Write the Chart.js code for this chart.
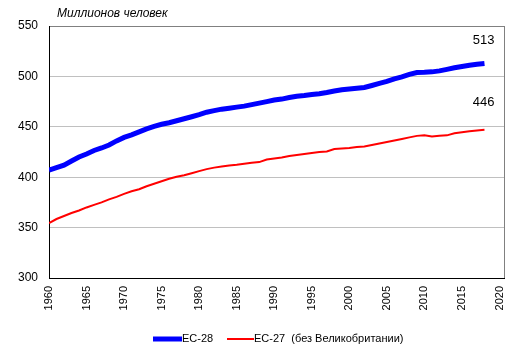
<!DOCTYPE html>
<html>
<head>
<meta charset="utf-8">
<script src="https://cdn.jsdelivr.net/npm/chart.js@4/dist/chart.umd.min.js"></script>
<style>
html,body{margin:0;padding:0;background:#fff;}
#wrap{width:517px;height:356px;position:relative;}
</style>
</head>
<body>
<div id="wrap"><canvas id="c" width="517" height="356"></canvas></div>
<script>
const years = [];
for (let y = 1960; y <= 2018; y++) years.push(y);

const ec28 = [407,409.5,412,416,420,423,426.5,429,432,436,439.5,442,445,448,450.5,452.5,454,456,458,460,
  462,464.5,466,467.5,468.5,469.5,470.5,472,473.5,475,476.6,477.5,479,480.3,481,482,482.8,484,485.5,486.8,
  487.5,488.3,489,491,493,495,497.5,499.5,502,503.8,504,504.5,505.5,507,508.5,509.8,511,512,512.8];

const ec27 = [354.5,358.5,361.5,364.5,367,370,372.5,375,378,380.5,383.5,386,388,391,393.5,396,398.5,400.5,402,404,
  406,408,409.5,410.5,411.5,412.3,413.3,414.3,415,417.5,418.5,419.5,421,422,423,424,425,425.5,428,428.5,
  429,430,430.5,432,433.5,435,436.5,438,439.5,441,441.5,440.5,441,441.5,443.5,444.5,445.5,446.3,447];

const seriesNames = ['ЕС-28', 'ЕС-27  (без Великобритании)'];
const endLabels = ['513', '446'];
const yTitle = 'Миллионов человек';
const yRange = [300, 550, 50];
const xRange = [1960, 2020.6, 5];

const FONT = '"Liberation Sans", Arial, sans-serif';

const extras = {
  id: 'extras',
  afterDraw(chart) {
    const ctx = chart.ctx;
    const a = chart.chartArea;
    const xs = chart.scales.x, ys = chart.scales.y;
    ctx.save();
    // right border
    ctx.strokeStyle = '#808080';
    ctx.lineWidth = 1;
    ctx.beginPath();
    ctx.moveTo(Math.round(a.right) + 0.5, a.top);
    ctx.lineTo(Math.round(a.right) + 0.5, a.bottom);
    ctx.stroke();
    // title
    ctx.fillStyle = '#000';
    ctx.font = 'italic 12px ' + FONT;
    ctx.textAlign = 'left';
    ctx.textBaseline = 'middle';
    ctx.fillText(yTitle, 57, 14);
    // end labels
    ctx.font = '13px ' + FONT;
    ctx.textAlign = 'right';
    const lastX = xs.getPixelForValue(years[years.length - 1]);
    ctx.fillText(endLabels[0], lastX + 10, ys.getPixelForValue(ec28[ec28.length - 1]) - 23);
    ctx.fillText(endLabels[1], lastX + 10, ys.getPixelForValue(ec27[ec27.length - 1]) - 27);
    // legend
    const ly = 339;
    ctx.font = '11px ' + FONT;
    ctx.textAlign = 'left';
    ctx.lineCap = 'butt';
    ctx.strokeStyle = '#0000ff';
    ctx.lineWidth = 5;
    ctx.beginPath(); ctx.moveTo(153, ly); ctx.lineTo(182, ly); ctx.stroke();
    ctx.fillText(seriesNames[0], 182, ly);
    ctx.strokeStyle = '#ff0000';
    ctx.lineWidth = 2;
    ctx.beginPath(); ctx.moveTo(227, ly); ctx.lineTo(254, ly); ctx.stroke();
    ctx.fillText(seriesNames[1], 254, ly);
    ctx.restore();
  }
};

new Chart(document.getElementById('c'), {
  type: 'line',
  data: {
    datasets: [
      { label: seriesNames[0], data: years.map((x, i) => ({x, y: ec28[i]})),
        borderColor: '#0000ff', borderWidth: 5, pointRadius: 0, fill: false, tension: 0 },
      { label: seriesNames[1], data: years.map((x, i) => ({x, y: ec27[i]})),
        borderColor: '#ff0000', borderWidth: 2, pointRadius: 0, fill: false, tension: 0 }
    ]
  },
  options: {
    responsive: false,
    animation: false,
    layout: { padding: { top: 26, right: 13, left: 0, bottom: 0 } },
    plugins: { legend: { display: false }, tooltip: { enabled: false } },
    scales: {
      x: {
        type: 'linear', min: xRange[0], max: xRange[1],
        afterFit(s) { s.height = 78; s.paddingLeft = 0; s.paddingRight = 0; },
        afterBuildTicks(s) {
          const t = [];
          for (let v = xRange[0]; v <= xRange[1]; v += xRange[2]) t.push({ value: v });
          s.ticks = t;
        },
        ticks: { stepSize: xRange[2], autoSkip: false, minRotation: 90, maxRotation: 90, padding: 8,
          color: '#000', font: { family: FONT, size: 11 }, callback: v => String(v) },
        grid: { display: false, drawTicks: false },
        border: { color: '#000', width: 1 }
      },
      y: {
        min: yRange[0], max: yRange[1],
        afterFit(s) { s.width = 49; s.paddingTop = 0; s.paddingBottom = 0; },
        ticks: { stepSize: yRange[2], padding: 11, color: '#000', font: { family: FONT, size: 12 },
          callback: v => String(v) },
        grid: { drawTicks: false,
          color: c => c.tick && c.tick.value === yRange[1] ? '#808080' : '#c0c0c0' },
        border: { color: '#000', width: 1 }
      }
    }
  },
  plugins: [extras]
});
</script>
</body>
</html>
